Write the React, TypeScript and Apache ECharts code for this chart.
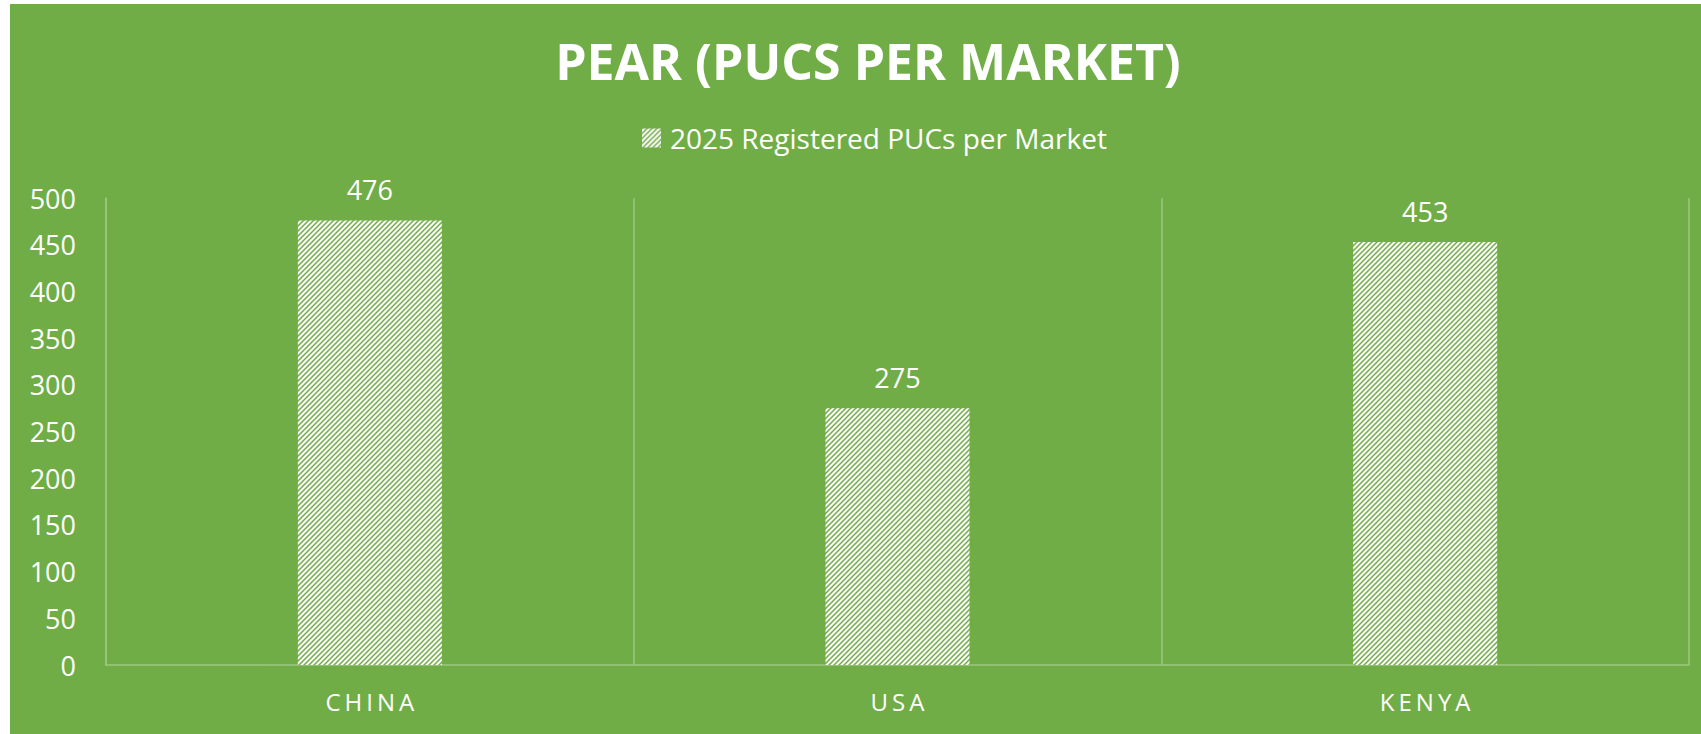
import React, { useEffect, useRef } from "react";
import * as echarts from "echarts";

const categories = ["CHINA", "USA", "KENYA"];
const values = [476, 275, 453];
const seriesName = "2025 Registered PUCs per Market";
const titleText = "PEAR (PUCS PER MARKET)";
const yTicks = { min: 0, max: 500, interval: 50 };

const GREEN = "#70AD47";
const LINE = "#9CC780";

function makePattern(): HTMLCanvasElement {
  const s = 5;
  const c = document.createElement("canvas");
  c.width = s;
  c.height = s;
  const ctx = c.getContext("2d")!;
  ctx.fillStyle = "#ffffff";
  ctx.fillRect(0, 0, s, s);
  ctx.strokeStyle = GREEN;
  ctx.lineWidth = 1.5;
  ctx.beginPath();
  ctx.moveTo(-1, s + 1);
  ctx.lineTo(s + 1, -1);
  ctx.moveTo(-2, 2);
  ctx.lineTo(2, -2);
  ctx.moveTo(s - 2, s + 2);
  ctx.lineTo(s + 2, s - 2);
  ctx.stroke();
  return c;
}

export default function App() {
  const ref = useRef<HTMLDivElement>(null);
  useEffect(() => {
    if (!ref.current) return;
    const chart = echarts.init(ref.current, null, { renderer: "svg" });
    const pat = makePattern();
    const pattern: any = { image: pat, repeat: "repeat", imageWidth: 5, imageHeight: 5 };
    chart.setOption({
      animation: false,
      backgroundColor: GREEN,
      textStyle: { fontFamily: "'Open Sans', sans-serif", color: "#fff" },
      title: {
        text: titleText,
        left: 853,
        textAlign: "center",
        top: 27,
        textStyle: {
          color: "#fff",
          fontSize: 50,
          fontWeight: "bold",
          fontFamily: "'Open Sans', sans-serif",
        },
      },
      legend: {
        left: 627,
        top: 115,
        itemWidth: 19,
        itemHeight: 19,
        icon: "rect",
        data: [seriesName],
        textStyle: {
          color: "#fff",
          fontSize: 28,
          fontFamily: "'Open Sans', sans-serif",
          padding: [0, 0, 0, 4],
        },
      },
      grid: { left: 96, right: 12, top: 194, bottom: 69, containLabel: false },
      xAxis: {
        type: "category",
        data: categories,
        boundaryGap: true,
        axisLine: { show: true, lineStyle: { color: LINE, width: 1.5 } },
        axisTick: { show: false },
        splitLine: { show: true, lineStyle: { color: LINE, width: 1.5 } },
        axisLabel: {
          color: "#fff",
          fontSize: 24,
          margin: 24,
          fontFamily: "'Open Sans', sans-serif",
          formatter: (v: string) => v.split("").join("\u2009"),
        },
      },
      yAxis: {
        type: "value",
        min: yTicks.min,
        max: yTicks.max,
        interval: yTicks.interval,
        axisLine: { show: true, lineStyle: { color: LINE, width: 1.5 } },
        axisTick: { show: false },
        splitLine: { show: false },
        axisLabel: {
          color: "#fff",
          fontSize: 27,
          margin: 30,
          fontFamily: "'Open Sans', sans-serif",
        },
      },
      series: [
        {
          name: seriesName,
          type: "bar",
          data: values,
          barWidth: 144,
          itemStyle: { color: pattern },
          label: {
            show: true,
            position: "top",
            distance: 17,
            color: "#fff",
            fontSize: 27,
            fontFamily: "'Open Sans', sans-serif",
          },
        },
      ],
    });
    return () => chart.dispose();
  }, []);
  return (
    <div
      ref={ref}
      style={{ position: "fixed", left: 10, top: 4, width: 1691, height: 730 }}
    />
  );
}
